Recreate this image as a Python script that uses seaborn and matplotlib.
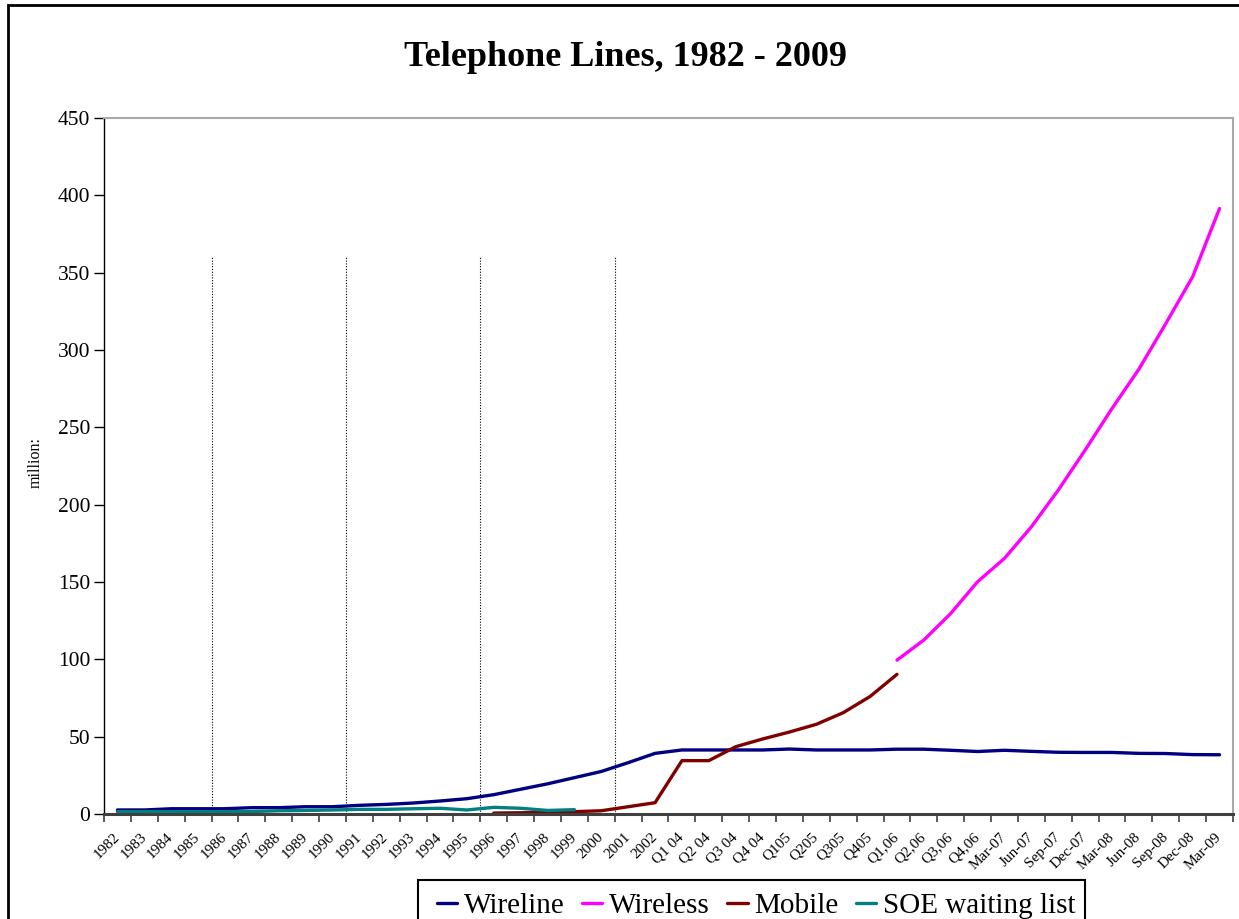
import numpy as np
import pandas as pd
import matplotlib
matplotlib.use("Agg")
import matplotlib.pyplot as plt
from matplotlib.patches import Rectangle
from matplotlib.lines import Line2D
import seaborn as sns

# Period labels along the category axis
periods = [str(y) for y in range(1982, 2003)] + [
    "Q1 04", "Q2 04", "Q3 04", "Q4 04",
    "Q105", "Q205", "Q305", "Q405",
    "Q1,06", "Q2,06", "Q3,06", "Q4,06",
    "Mar-07", "Jun-07", "Sep-07", "Dec-07",
    "Mar-08", "Jun-08", "Sep-08", "Dec-08", "Mar-09",
]

# Lines in millions (None = no data for that period)
wireline = [2.6, 2.6, 3.4, 3.4, 3.4, 4.1, 4.1, 4.7, 4.7, 5.6, 6.2, 7.1, 8.4,
            9.9, 12.5, 16.0, 19.5, 23.5, 27.5, 33.2, 39.2,
            41.4, 41.4, 41.4, 41.4, 42.0, 41.4, 41.4, 41.4, 41.9, 41.9,
            41.2, 40.4, 41.2, 40.5, 39.9, 39.8, 39.8, 39.2, 39.1, 38.4, 38.3]
wireless = [None] * 29 + [99.5, 112.5, 129.7, 150.2, 165.3, 185.7, 209.4,
                          235.3, 262.2, 287.6, 317.1, 347.4, 391.5]
mobile = [None] * 14 + [0.6, 0.8, 1.0, 1.5, 2.1, 4.7, 7.3,
                        34.5, 34.5, 43.5, 48.5, 53.0, 58.0, 65.5, 76.0, 90.3] + [None] * 12
soe_waiting = [1.5, 1.5, 1.5, 1.5, 1.5, 1.6, 2.1, 2.3, 2.6, 3.0, 3.0, 3.4,
               3.7, 2.6, 4.3, 3.7, 2.3, 2.8] + [None] * 24

series_names = ["Wireline", "Wireless", "Mobile", "SOE waiting list"]
series_colors = ["#000080", "#FF00FF", "#800000", "#008080"]
divider_positions = [3.5, 8.5, 13.5, 18.5]

sns.set_theme(style="white")
plt.rcParams["font.family"] = ["Liberation Serif", "DejaVu Serif"]
plt.rcParams.update({"text.color": "black", "axes.labelcolor": "black",
                     "xtick.color": "black", "ytick.color": "black"})

records = []
for name, vals in zip(series_names, [wireline, wireless, mobile, soe_waiting]):
    for i, v in enumerate(vals):
        if v is not None:
            records.append({"pos": i, "value": v, "series": name})
df = pd.DataFrame(records)

W, H = 1239, 919
fig = plt.figure(figsize=(W / 100, H / 100), dpi=100)
ax = fig.add_axes([104 / W, 1 - 814 / H, (1233 - 104) / W, (814 - 118) / H])

sns.lineplot(data=df, x="pos", y="value", hue="series", hue_order=series_names,
             palette=dict(zip(series_names, series_colors)), linewidth=2.4,
             legend=False, ax=ax, estimator=None, sort=True)

ax.vlines(divider_positions, 0, 360, colors="black", linestyles=(0, (1, 1.5)),
          linewidth=0.8, zorder=1)

ax.set_xlim(-0.5, len(periods) - 0.5)
ax.set_ylim(0, 450)
ax.set_yticks(np.arange(0, 451, 50))
ax.tick_params(axis="y", labelsize=15.5, length=7, width=1, direction="out",
               left=True, pad=3)

ax.set_xticks(np.arange(len(periods)))
ax.set_xticklabels(periods, rotation=45, ha="right", va="center",
                   rotation_mode="anchor", fontsize=11)
ax.set_xticks(np.arange(len(periods) + 1) - 0.5, minor=True)
ax.tick_params(axis="x", which="major", length=0, pad=15)
ax.tick_params(axis="x", which="minor", length=6, width=1.2, direction="out",
               bottom=True, color="#404040")

ax.set_xlabel("")
ax.set_ylabel("")
fig.text(36 / W, 1 - 463 / H, "million:", rotation=90, ha="center",
         va="center", fontsize=11.5)

ax.spines["left"].set_color("black")
ax.spines["left"].set_linewidth(1.0)
ax.spines["bottom"].set_color("#404040")
ax.spines["bottom"].set_linewidth(2.2)
for s in ("top", "right"):
    ax.spines[s].set_color("#a8a8a8")
    ax.spines[s].set_linewidth(1.5)
ax.grid(False)

fig.text(625 / W, 1 - 58 / H, "Telephone Lines, 1982 - 2009",
         ha="center", va="center", fontsize=26, fontweight="bold")

# Legend box runs off the bottom edge of the figure
fig.patches.append(Rectangle((418 / W, -0.3), (1085 - 418) / W,
                             1 - 880 / H + 0.3, transform=fig.transFigure,
                             facecolor="white", edgecolor="black",
                             linewidth=1.5, zorder=2))
handles = [Line2D([0], [0], color=c, lw=2.4) for c in series_colors]
leg = fig.legend(handles, series_names, loc="upper left",
                 bbox_to_anchor=(437 / W, 1 - 893 / H), ncol=4,
                 fontsize=21, frameon=False,
                 handlelength=0.7, handletextpad=0.22, columnspacing=0.6,
                 borderpad=0.0, borderaxespad=0)
leg.set_zorder(3)

fig.patches.append(Rectangle((8 / W, -0.3), 1.3, 1 - 5 / H + 0.3,
                             transform=fig.transFigure, fill=False,
                             edgecolor="black", linewidth=2, zorder=0))

fig.savefig("out.png", dpi=100)
